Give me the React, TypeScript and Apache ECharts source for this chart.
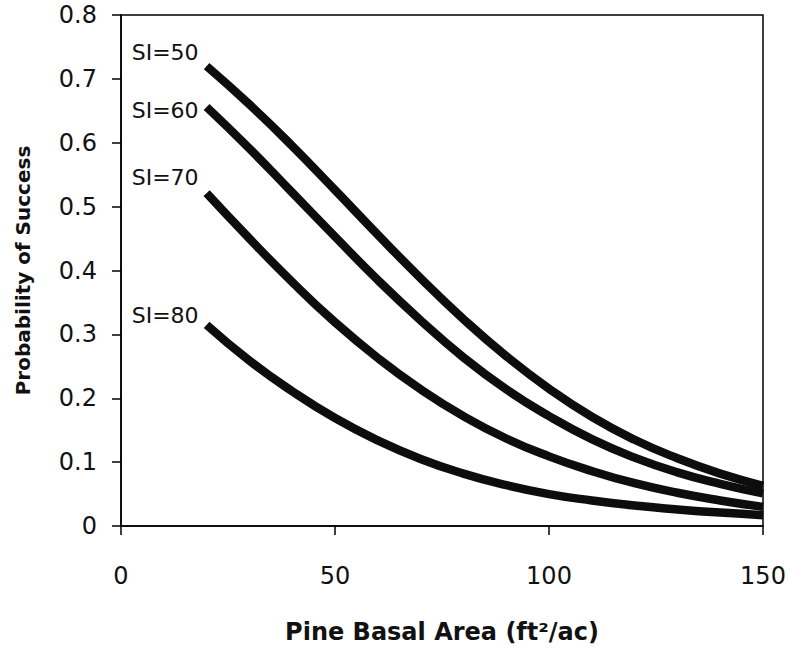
import React, { useEffect, useRef } from "react";
import * as echarts from "echarts";

const basalArea = [20, 30, 40, 50, 60, 70, 80, 90, 100, 110, 120, 130, 140, 150];
const si50 = [0.72, 0.66, 0.595, 0.526, 0.456, 0.388, 0.324, 0.266, 0.215, 0.171, 0.135, 0.106, 0.082, 0.063];
const si60 = [0.656, 0.591, 0.522, 0.453, 0.385, 0.322, 0.264, 0.214, 0.172, 0.136, 0.107, 0.084, 0.066, 0.051];
const si70 = [0.521, 0.45, 0.382, 0.319, 0.263, 0.214, 0.172, 0.137, 0.109, 0.086, 0.067, 0.052, 0.04, 0.03];
const si80 = [0.315, 0.259, 0.211, 0.169, 0.134, 0.105, 0.082, 0.064, 0.05, 0.04, 0.032, 0.026, 0.021, 0.017];
const seriesNames = ["SI=50", "SI=60", "SI=70", "SI=80"];
const seriesValues = [si50, si60, si70, si80];
const labelOffsets = [-14, 4, -16, -9];

const FONT = "DejaVu Sans";

export default function App() {
  const ref = useRef<HTMLDivElement>(null);
  useEffect(() => {
    if (!ref.current) return;
    const chart = echarts.init(ref.current, null, { renderer: "svg" });
    const series = seriesValues.map((vals, si) => ({
      type: "line",
      name: seriesNames[si],
      smooth: true,
      symbol: "circle",
      symbolSize: 0,
      showSymbol: true,
      lineStyle: { color: "#0d0d0d", width: 8.5, cap: "butt" },
      itemStyle: { color: "#0d0d0d" },
      data: vals.map((v, i) =>
        i === 0
          ? {
              value: [basalArea[i], v],
              label: {
                show: true,
                position: "left",
                distance: 8,
                offset: [0, labelOffsets[si]],
                formatter: seriesNames[si],
                color: "#111",
                fontFamily: FONT,
                fontSize: 22,
              },
            }
          : { value: [basalArea[i], v] }
      ),
    }));
    chart.setOption({
      animation: false,
      backgroundColor: "#fff",
      grid: {
        left: 121,
        right: 26,
        top: 15,
        bottom: 126,
        show: true,
        borderColor: "#000",
        borderWidth: 1.5,
      },
      xAxis: {
        type: "value",
        min: 0,
        max: 150,
        interval: 50,
        name: "Pine Basal Area (ft²/ac)",
        nameLocation: "middle",
        nameGap: 94,
        nameTextStyle: { fontFamily: FONT, fontWeight: "bold", fontSize: 24, color: "#111" },
        axisLine: { lineStyle: { color: "#000", width: 1.5 } },
        axisTick: { show: true, length: 9, lineStyle: { color: "#000", width: 1.5 } },
        axisLabel: { margin: 38, fontFamily: FONT, fontSize: 24, color: "#111" },
        splitLine: { show: false },
      },
      yAxis: {
        type: "value",
        min: 0,
        max: 0.8,
        interval: 0.1,
        name: "Probability of Success",
        nameLocation: "middle",
        nameGap: 88,
        nameTextStyle: { fontFamily: FONT, fontWeight: "bold", fontSize: 20, color: "#111" },
        axisLine: { show: true, lineStyle: { color: "#000", width: 1.5 } },
        axisTick: { show: true, length: 9, lineStyle: { color: "#000", width: 1.5 } },
        axisLabel: { margin: 24, fontFamily: FONT, fontSize: 24, color: "#111" },
        splitLine: { show: false },
      },
      series,
    });
    return () => chart.dispose();
  }, []);
  return <div ref={ref} style={{ width: 789, height: 652, position: "absolute", left: 0, top: 0 }} />;
}
